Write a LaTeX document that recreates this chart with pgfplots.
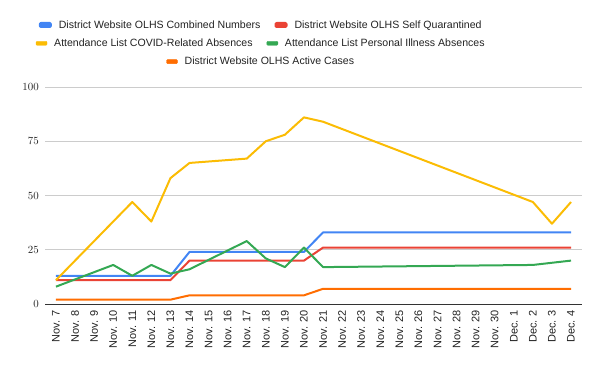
\documentclass[border=0pt]{standalone}
\usepackage{pgfplots}
\pgfplotsset{compat=1.18}
\usepackage{fontspec}
\setmainfont{Liberation Sans}
\definecolor{gblue}{HTML}{4285F4}
\definecolor{gred}{HTML}{EA4335}
\definecolor{gyellow}{HTML}{FBBC04}
\definecolor{ggreen}{HTML}{34A853}
\definecolor{gorange}{HTML}{FF6D01}
\definecolor{ggrid}{HTML}{CCCCCC}
\definecolor{gtext}{HTML}{222222}
\definecolor{gaxis}{HTML}{333333}
\pgfplotsset{
  common/.style={
    at={(45bp,67bp)}, anchor=south west,
    scale only axis, width=537bp, height=217bp,
    xmin=-0.576, xmax=27.576, ymin=0, ymax=100,
    legend image code/.code={\fill[##1, rounded corners=1bp] (0bp,-2bp) rectangle (11bp,2bp);},
  },
  glegend/.style={
    legend style={at={(0.4026,#1)}, anchor=center, draw=none, fill=none,
      legend columns=-1, text=gtext,
      font=\fontsize{10.6}{12}\selectfont,
      /tikz/every odd column/.append style={column sep=5bp},
      /tikz/every even column/.append style={column sep=12bp}},
  },
}
\begin{document}
\begin{tikzpicture}[x=1bp,y=1bp]
\useasboundingbox (0,0) rectangle (600,371);
\begin{axis}[common, glegend=1.2857,
  axis x line*=bottom, axis y line*=left,
  x axis line style={draw=gaxis, line width=0.8bp},
  y axis line style={draw=none},
  ytick={0,25,50,75,100},
  ymajorgrids, grid style={draw=ggrid, line width=0.8bp},
  major tick length=0pt, tick style={draw=none},
  xtick={0,...,27},
  xticklabels={Nov. 7,Nov. 8,Nov. 9,Nov. 10,Nov. 11,Nov. 12,Nov. 13,Nov. 14,Nov. 15,Nov. 16,Nov. 17,Nov. 18,Nov. 19,Nov. 20,Nov. 21,Nov. 22,Nov. 23,Nov. 24,Nov. 25,Nov. 26,Nov. 27,Nov. 28,Nov. 29,Nov. 30,Dec. 1,Dec. 2,Dec. 3,Dec. 4},
  xticklabel style={yshift=-6bp, rotate=90, anchor=east, inner sep=0pt, text=gtext, font=\fontsize{11}{13}\selectfont},
  yticklabel style={xshift=-6bp, anchor=east, inner sep=0pt, text=gtext, font=\fontsize{11}{13}\selectfont},
  every axis plot/.append style={line width=2bp, line join=round, mark=none},
]
\addplot[gblue] coordinates {(0,13) (6,13) (7,24) (13,24) (14,33) (27,33)};
\addlegendentry{District Website OLHS Combined Numbers}
\addplot[gred] coordinates {(0,11) (6,11) (7,20) (13,20) (14,26) (27,26)};
\addlegendentry{District Website OLHS Self Quarantined}
\addplot[gyellow] coordinates {(0,11) (4,47) (5,38) (6,58) (7,65) (10,67) (11,75) (12,78) (13,86) (14,84) (25,47) (26,37) (27,47)};
\addplot[ggreen] coordinates {(0,8) (3,18) (4,13) (5,18) (6,14) (7,16) (10,29) (11,21) (12,17) (13,26) (14,17) (25,18) (26,19) (27,20)};
\addplot[gorange] coordinates {(0,2) (6,2) (7,4) (13,4) (14,7) (27,7)};
\end{axis}
\begin{axis}[common, glegend=1.2014, hide axis]
\addlegendimage{gyellow}
\addlegendentry{Attendance List COVID-Related Absences}
\addlegendimage{ggreen}
\addlegendentry{Attendance List Personal Illness Absences}
\end{axis}
\begin{axis}[common, glegend=1.1166, hide axis]
\addlegendimage{gorange}
\addlegendentry{District Website OLHS Active Cases}
\end{axis}
\end{tikzpicture}
\end{document}
